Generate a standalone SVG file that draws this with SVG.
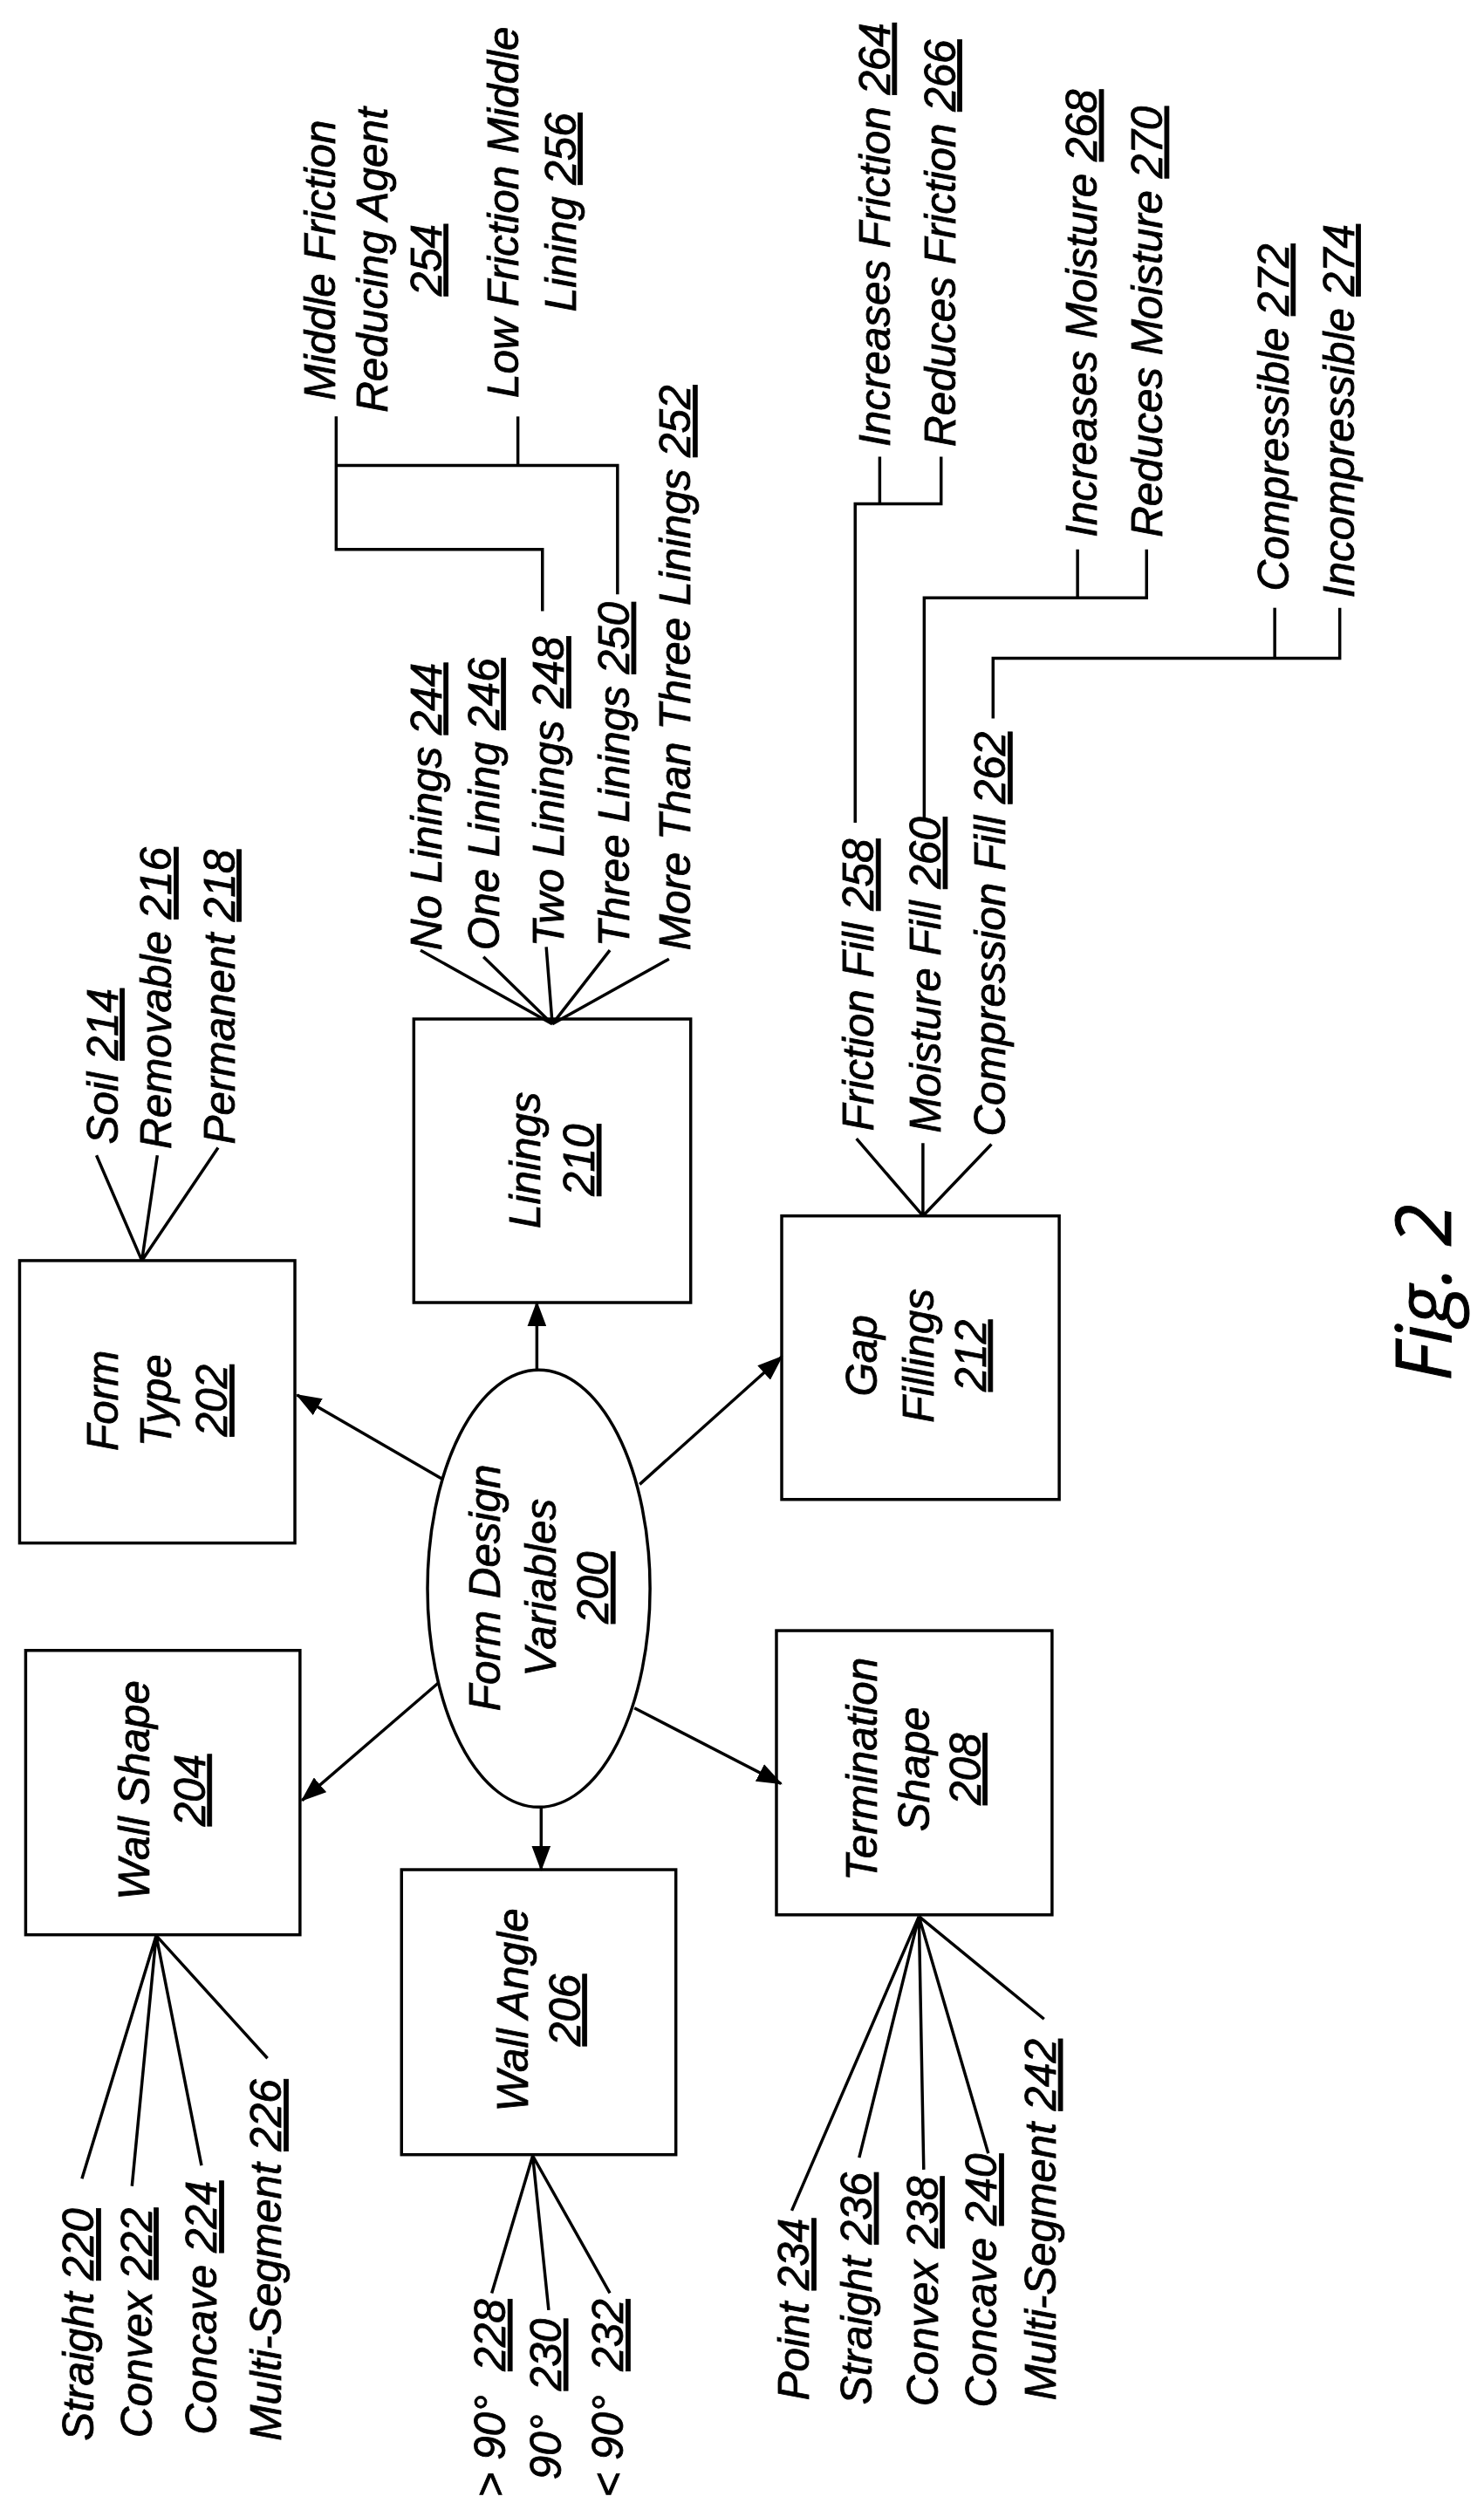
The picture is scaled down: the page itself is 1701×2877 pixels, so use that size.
<svg xmlns="http://www.w3.org/2000/svg" width="1701" height="2877" viewBox="0 0 1701 2877">
<style>
.t{font-family:"Liberation Sans",Arial,sans-serif;font-style:italic;font-size:27px;fill:#000;stroke:#000;stroke-width:0.45}
.m{text-anchor:middle}
.u{text-decoration:underline}
.s{fill:none;stroke:#000;stroke-width:1.9}
.fig{font-family:"Open Sans",sans-serif;font-style:italic;font-size:48px;text-anchor:middle;stroke:#000;stroke-width:0.5}
</style>
<defs>
<marker id="ah" markerWidth="16" markerHeight="12" refX="15" refY="6" orient="auto" markerUnits="userSpaceOnUse">
<path d="M0,0 L16,6 L0,12 Z" fill="#000"/>
</marker>
</defs>
<rect width="1701" height="2877" fill="#fff"/>
<g transform="scale(1.8271,1.829)">
<g id="n200"><ellipse class="s" cx="338" cy="995.5" rx="69.8" ry="137"/>
<text class="t m" transform="translate(313.6,995) rotate(-90)">Form Design</text>
<text class="t m" transform="translate(348.7,995) rotate(-90)">Variables</text>
<text class="t m" transform="translate(381.6,995) rotate(-90)"><tspan class="u">200</tspan></text></g>
<g id="n202"><rect class="s" x="12.3" y="790" width="172.7" height="177"/>
<text class="t m" transform="translate(73.7,877.7) rotate(-90)">Form</text>
<text class="t m" transform="translate(107.5,877.7) rotate(-90)">Type</text>
<text class="t m" transform="translate(142.5,877.7) rotate(-90)"><tspan class="u">202</tspan></text></g>
<g id="n204"><rect class="s" x="16.1" y="1034.3" width="172.1" height="178.2"/>
<text class="t m" transform="translate(93.7,1121.9) rotate(-90)">Wall Shape</text>
<text class="t m" transform="translate(128.5,1121.9) rotate(-90)"><tspan class="u">204</tspan></text></g>
<g id="n206"><rect class="s" x="251.9" y="1171.7" width="172.1" height="178.6"/>
<text class="t m" transform="translate(331,1259.7) rotate(-90)">Wall Angle</text>
<text class="t m" transform="translate(363.8,1259.7) rotate(-90)"><tspan class="u">206</tspan></text></g>
<g id="n208"><rect class="s" x="487.1" y="1021.9" width="172.9" height="178.1"/>
<text class="t m" transform="translate(549.9,1108.7) rotate(-90)">Termination</text>
<text class="t m" transform="translate(583,1108.7) rotate(-90)">Shape</text>
<text class="t m" transform="translate(615,1108.7) rotate(-90)"><tspan class="u">208</tspan></text></g>
<g id="n210"><rect class="s" x="259.6" y="638.6" width="173.7" height="177.7"/>
<text class="t m" transform="translate(338.6,727) rotate(-90)">Linings</text>
<text class="t m" transform="translate(372.8,727) rotate(-90)"><tspan class="u">210</tspan></text></g>
<g id="n212"><rect class="s" x="490.4" y="762" width="174.1" height="177.7"/>
<text class="t m" transform="translate(550,849.6) rotate(-90)">Gap</text>
<text class="t m" transform="translate(585.5,849.6) rotate(-90)">Fillings</text>
<text class="t m" transform="translate(618.4,849.6) rotate(-90)"><tspan class="u">212</tspan></text></g>
<g id="leaves">
<text class="t" transform="translate(73.7,717) rotate(-90)">Soil <tspan class="u">214</tspan></text>
<text class="t" transform="translate(107.5,720) rotate(-90)">Removable <tspan class="u">216</tspan></text>
<text class="t" transform="translate(147,717) rotate(-90)">Permanent <tspan class="u">218</tspan></text>
<text class="t" transform="translate(58.8,1529.6) rotate(-90)">Straight <tspan class="u">220</tspan></text>
<text class="t" transform="translate(95,1527.7) rotate(-90)">Convex <tspan class="u">222</tspan></text>
<text class="t" transform="translate(136,1525.8) rotate(-90)">Concave <tspan class="u">224</tspan></text>
<text class="t" transform="translate(176.5,1529.6) rotate(-90)">Multi-Segment <tspan class="u">226</tspan></text>
<text class="t" xml:space="preserve" transform="translate(317,1565) rotate(-90)">&gt; 90°  <tspan class="u">228</tspan></text>
<text class="t" xml:space="preserve" transform="translate(352,1554) rotate(-90)">90°  <tspan class="u">230</tspan></text>
<text class="t" xml:space="preserve" transform="translate(391,1565) rotate(-90)">&lt; 90°  <tspan class="u">232</tspan></text>
<text class="t" transform="translate(507.6,1504.3) rotate(-90)">Point <tspan class="u">234</tspan></text>
<text class="t" transform="translate(546.8,1507) rotate(-90)">Straight <tspan class="u">236</tspan></text>
<text class="t" transform="translate(588.2,1508) rotate(-90)">Convex <tspan class="u">238</tspan></text>
<text class="t" transform="translate(625.3,1508.8) rotate(-90)">Concave <tspan class="u">240</tspan></text>
<text class="t" transform="translate(662.3,1504.3) rotate(-90)">Multi-Segment <tspan class="u">242</tspan></text>
<text class="t" transform="translate(276.8,595.5) rotate(-90)">No Linings <tspan class="u">244</tspan></text>
<text class="t" transform="translate(312.9,595.5) rotate(-90)">One Lining <tspan class="u">246</tspan></text>
<text class="t" transform="translate(353.8,593.4) rotate(-90)">Two Linings <tspan class="u">248</tspan></text>
<text class="t" transform="translate(394.6,593.4) rotate(-90)">Three Linings <tspan class="u">250</tspan></text>
<text class="t" transform="translate(433.1,595.5) rotate(-90)">More Than Three Linings <tspan class="u">252</tspan></text>
<text class="t m" transform="translate(210.4,163) rotate(-90)">Middle Friction</text>
<text class="t m" transform="translate(243.1,163) rotate(-90)">Reducing Agent</text>
<text class="t m" transform="translate(276.8,163) rotate(-90)"><tspan class="u">254</tspan></text>
<text class="t m" transform="translate(324.9,133) rotate(-90)">Low Friction Middle</text>
<text class="t m" transform="translate(361,133) rotate(-90)">Lining <tspan class="u">256</tspan></text>
<text class="t" transform="translate(548,708.7) rotate(-90)">Friction Fill <tspan class="u">258</tspan></text>
<text class="t" transform="translate(590,710) rotate(-90)">Moisture Fill <tspan class="u">260</tspan></text>
<text class="t" transform="translate(630.7,712.2) rotate(-90)">Compression Fill <tspan class="u">262</tspan></text>
<text class="t" transform="translate(558.2,279.9) rotate(-90)">Increases Friction <tspan class="u">264</tspan></text>
<text class="t" transform="translate(599.1,279.9) rotate(-90)">Reduces Friction <tspan class="u">266</tspan></text>
<text class="t" transform="translate(688,336.7) rotate(-90)">Increases Moisture <tspan class="u">268</tspan></text>
<text class="t" transform="translate(729,336.7) rotate(-90)">Reduces Moisture <tspan class="u">270</tspan></text>
<text class="t" transform="translate(808.3,370.4) rotate(-90)">Compressible <tspan class="u">272</tspan></text>
<text class="t" transform="translate(849.2,374.6) rotate(-90)">Incompressible <tspan class="u">274</tspan></text>
</g>
<g id="connectors" class="s">
<line x1="277.2" y1="926.7" x2="186.4" y2="874.2" marker-end="url(#ah)"/>
<line x1="401.3" y1="930.2" x2="490.4" y2="850.3" marker-end="url(#ah)"/>
<line x1="275" y1="1054.7" x2="189.5" y2="1128.3" marker-end="url(#ah)"/>
<line x1="398" y1="1070.4" x2="490" y2="1117.8" marker-end="url(#ah)"/>
<line x1="339.5" y1="1132.5" x2="339.5" y2="1171.7" marker-end="url(#ah)"/>
<line x1="336.8" y1="858.4" x2="336.8" y2="816.3" marker-end="url(#ah)"/>
<path d="M89,790 L60.5,724 M89,790 L98.7,724 M89,790 L136.8,719.2"/>
<path d="M98,1213 L51.4,1365.4 M98,1213 L82.8,1370 M98,1213 L126.4,1357.1 M98,1213 L167.8,1289.9"/>
<path d="M334.2,1351 L308.5,1437.1 M334.2,1351 L344.2,1447.7 M334.2,1351 L382.6,1437.1"/>
<path d="M576.5,1201 L496.7,1385.4 M576.5,1201 L539,1352.2 M576.5,1201 L579.5,1359.7 M576.5,1201 L620,1349.5 M576.5,1201 L655,1265.3"/>
<path d="M346.5,641.8 L263.8,595.5 M346.5,641.8 L303.3,599.7 M346.5,641.8 L342.7,593.4 M346.5,641.8 L382.6,595.5 M346.5,641.8 L419.7,601"/>
<path d="M579,762 L537.3,713.6 M579,762 L579,716.4 M579,762 L622,717.1"/>
<polyline points="340.3,383 340.3,344.3 210.9,344.3 210.9,261"/>
<polyline points="210.9,291.7 387.4,291.7 387.4,372.5"/>
<line x1="324.9" y1="261" x2="324.9" y2="291.7"/>
<polyline points="536.5,515.6 536.5,315.7 590.4,315.7 590.4,286.2"/>
<line x1="551.9" y1="286.2" x2="551.9" y2="315.7"/>
<polyline points="579.8,513.5 579.8,374.6 719.3,374.6 719.3,344.3"/>
<line x1="676" y1="344.3" x2="676" y2="374.6"/>
<polyline points="623,450.3 623,412.5 840.5,412.5 840.5,380.9"/>
<line x1="799.7" y1="380.9" x2="799.7" y2="412.5"/>
</g>
<text class="fig" transform="translate(910,810) rotate(-90)">Fig. 2</text>
</g>
</svg>
